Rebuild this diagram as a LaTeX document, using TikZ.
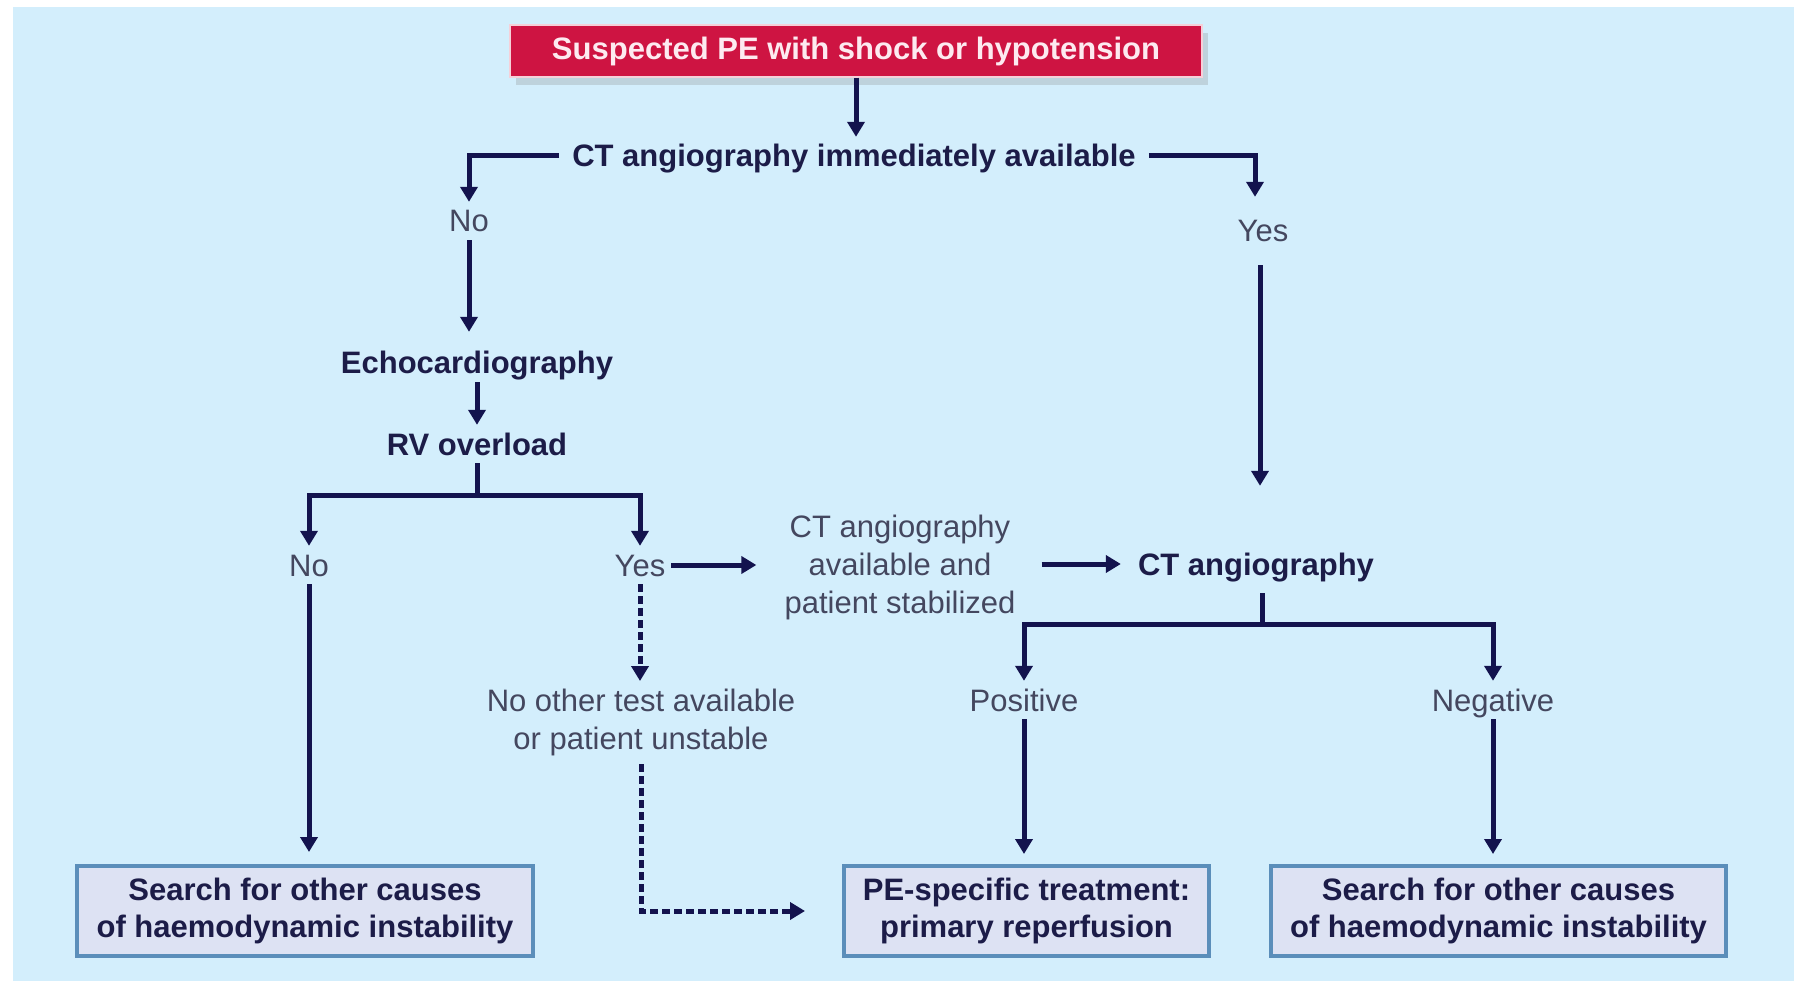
\documentclass[tikz,border=0pt]{standalone}
\usepackage{fontspec}
\setmainfont{Liberation Sans}
\usetikzlibrary{arrows.meta,shadows}
\definecolor{bgblue}{HTML}{D3EEFC}
\definecolor{navy}{HTML}{13134E}
\definecolor{boldtxt}{HTML}{1C1C48}
\definecolor{regtxt}{HTML}{44475F}
\definecolor{redfill}{HTML}{CE1442}
\definecolor{redtxt}{HTML}{FDEAF0}
\definecolor{boxfill}{HTML}{DDE2F3}
\definecolor{boxline}{HTML}{5B8EBA}
\begin{document}
\begin{tikzpicture}[x=1pt,y=-1pt,
 boldlbl/.style={font=\fontsize{31}{38}\selectfont\bfseries, text=boldtxt, text height=22pt, text depth=0pt, inner xsep=6pt, inner ysep=8pt},
 reglbl/.style={font=\fontsize{31}{38}\selectfont, text=regtxt, text height=22pt, text depth=0pt, inner xsep=6pt, inner ysep=8pt},
 multilbl/.style={font=\fontsize{31}{38}\selectfont, text=regtxt, align=center, inner xsep=6pt, inner ysep=8pt},
 endbox/.style={draw=boxline, line width=4pt, fill=boxfill, align=center, font=\fontsize{31}{37}\selectfont\bfseries, text=boldtxt, minimum height=90pt, inner sep=0pt},
 arr/.style={draw=navy, line width=5pt, -{Triangle[length=15pt,width=17pt]}},
 dasharr/.style={arr, dash pattern=on 8pt off 4pt},
]
\fill[white] (0,0) rectangle (1794,981);
\fill[bgblue] (13,7) rectangle (1794,981);
\useasboundingbox (0,0) rectangle (1794,981);

\node[draw=white!80!redfill, line width=1.5pt, fill=redfill, text=redtxt, minimum width=692pt, minimum height=52pt, inner sep=0pt, font=\fontsize{31}{38}\selectfont\bfseries, drop shadow={shadow xshift=6pt, shadow yshift=-8pt, opacity=0.25, fill=gray}] (red) at (856,51) {Suspected PE with shock or hypotension};

\node[boldlbl, inner xsep=13pt] (ctia) at (854,156) {CT angiography immediately available};
\node[reglbl] (no1) at (469,221) {No};
\node[reglbl] (yes1) at (1263,231) {Yes};
\node[boldlbl] (echo) at (477,363) {Echocardiography};
\node[boldlbl] (rv) at (477,444) {RV overload};
\node[reglbl] (no2) at (309,565) {No};
\node[reglbl] (yes2) at (640,565) {Yes};
\node[multilbl] (ctstab) at (900,567) {CT angiography\\available and\\patient stabilized};
\node[boldlbl] (ctang) at (1256,564) {CT angiography};
\node[reglbl] (pos) at (1024,700) {Positive};
\node[reglbl] (neg) at (1493,700) {Negative};
\node[multilbl, anchor=north] (nother) at (641,681) {No other test available\\or patient unstable};
\node[endbox, minimum width=456pt] (boxL) at (305,911) {Search for other causes\\of haemodynamic instability};
\node[endbox, minimum width=365pt] (boxM) at (1026.5,911) {PE-specific treatment:\\primary reperfusion};
\node[endbox, minimum width=455pt] (boxR) at (1498.5,911) {Search for other causes\\of haemodynamic instability};

\draw[arr] (red.south) -- (red.south |- ctia.north);
\draw[arr] (ctia.west) -| (no1.north);
\draw[arr, shorten >=15pt] (ctia.east) -| ([xshift=-8pt]yes1.north);
\draw[arr, shorten >=12pt] (no1.south) -- (no1.south |- echo.north);
\draw[arr] (echo.south) -- (echo.south |- rv.north);
\draw[arr] (rv.south) -- ++(0,32) -| (no2.north);
\draw[arr] (rv.south) -- ++(0,32) -| (yes2.north);
\draw[arr, shorten >=12pt] (no2.south) -- (no2.south |- boxL.north);
\draw[dasharr] (yes2.south) -- (yes2.south |- nother.north);
\draw[dasharr, shorten >=37pt] (nother.south) |- (boxM.west);
\draw[arr, shorten >=22pt] (yes2.east) -- (yes2.east -| ctstab.west);
\draw[arr, shorten <=20pt, shorten >=11pt] (ctstab.east |- ctang.west) -- (ctang.west);
\draw[arr, shorten <=15pt, shorten >=59pt] ([xshift=-3pt]yes1.south) -- ([xshift=-3pt]yes1.south |- ctang.north);
\draw[arr, shorten <=10pt] ([xshift=6pt]ctang.south) -- ++(0,41) -| (pos.north);
\draw[arr, shorten <=10pt] ([xshift=6pt]ctang.south) -- ++(0,41) -| (neg.north);
\draw[arr, shorten >=10pt] (pos.south) -- (pos.south |- boxM.north);
\draw[arr, shorten >=10pt] (neg.south) -- (neg.south |- boxR.north);
\end{tikzpicture}
\end{document}
